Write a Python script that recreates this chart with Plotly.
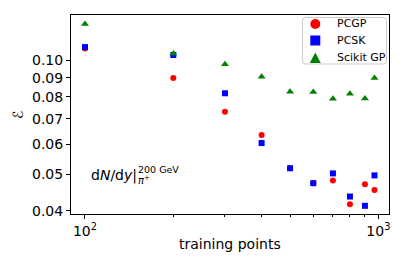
import plotly.graph_objects as go
import numpy as np

# data
train_pts = [100, 200, 300, 400, 500, 600, 700, 800, 900, 970]
pcgp = [0.1075, 0.0898, 0.0731, 0.0634, 0.0518, 0.0473, 0.0481, 0.0416, 0.0470, 0.0454]
pcsk = [0.1084, 0.1033, 0.0818, 0.0604, 0.0518, 0.0473, 0.0502, 0.0436, 0.0412, 0.0496]
scikit = [0.1247, 0.1043, 0.0976, 0.0905, 0.0826, 0.0824, 0.0791, 0.0816, 0.0793, 0.0898]
series_names = ["PCGP", "PCSK", "Scikit GP"]
y_ticks = [0.04, 0.05, 0.06, 0.07, 0.08, 0.09, 0.10]
y_tick_labels = ["0.04", "0.05", "0.06", "0.07", "0.08", "0.09", "0.10"]
x_ticks = [100, 1000]
x_tick_labels = ["10<sup>2</sup>", "10<sup>3</sup>"]
x_minor = [200, 300, 400, 500, 600, 700, 800, 900]

W, H = 407, 271
L, R, T, B = 71, 389, 15, 214

font = "DejaVu Sans"
colors = ["#ff0000", "#0000ff", "#008000"]
symbols = ["circle", "square", "triangle-up"]
sizes = [6, 6, 7]
series = [pcgp, pcsk, scikit]

fig = go.Figure()
for name, ys, c, s, sz in zip(series_names, series, colors, symbols, sizes):
    fig.add_trace(go.Scatter(x=train_pts, y=ys, mode="markers", name=name,
                             marker=dict(color=c, symbol=s, size=sz, line=dict(width=0)),
                             showlegend=False))


def px_x(p):
    return (p - L) / (R - L)


def px_y(p):
    return (B - p) / (B - T)


fig.update_layout(
    width=W, height=H,
    margin=dict(l=L, r=W - R, t=T, b=H - B, pad=0, autoexpand=False),
    paper_bgcolor="white", plot_bgcolor="white",
    font=dict(family=font, size=14, color="black"),
    showlegend=False,
    xaxis=dict(type="log", range=[np.log10(89.6), np.log10(1087)], automargin=False,
               showline=True, linecolor="black", linewidth=1, mirror=True,
               showgrid=False, zeroline=False,
               tickmode="array", tickvals=x_ticks, ticktext=x_tick_labels,
               ticks="outside", ticklen=4, tickwidth=1, tickcolor="black",
               tickfont=dict(size=14),
               minor=dict(tickmode="array", tickvals=x_minor, ticks="outside",
                          ticklen=2, tickwidth=1, tickcolor="black", showgrid=False)),
    yaxis=dict(type="log", range=[np.log10(0.0392), np.log10(0.1318)], automargin=False,
               showline=True, linecolor="black", linewidth=1, mirror=True,
               showgrid=False, zeroline=False,
               tickmode="array", tickvals=y_ticks, ticktext=y_tick_labels,
               ticks="outside", ticklen=4, tickwidth=1, tickcolor="black",
               tickfont=dict(size=14)),
)

# ---- manual legend (box + glyphs + labels) ----
bx0, bx1, by0, by1, rr = 302.5, 386.5, 17.5, 64.0, 3.0


def P(x, y):
    return f"{px_x(x):.5f},{px_y(y):.5f}"


box_path = (f"M {P(bx0 + rr, by0)} L {P(bx1 - rr, by0)} Q {P(bx1, by0)} {P(bx1, by0 + rr)} "
            f"L {P(bx1, by1 - rr)} Q {P(bx1, by1)} {P(bx1 - rr, by1)} "
            f"L {P(bx0 + rr, by1)} Q {P(bx0, by1)} {P(bx0, by1 - rr)} "
            f"L {P(bx0, by0 + rr)} Q {P(bx0, by0)} {P(bx0 + rr, by0)} Z")
fig.add_shape(type="path", path=box_path, xref="paper", yref="paper",
              fillcolor="rgba(255,255,255,0.85)", line=dict(color="#cccccc", width=1))

mx = 315.3
row_y = [24.0, 40.5, 57.5]
# circle
fig.add_shape(type="circle", xref="paper", yref="paper",
              x0=px_x(mx - 5), x1=px_x(mx + 5), y0=px_y(row_y[0] + 5), y1=px_y(row_y[0] - 5),
              fillcolor=colors[0], line=dict(width=0))
# square
fig.add_shape(type="rect", xref="paper", yref="paper",
              x0=px_x(mx - 5), x1=px_x(mx + 5), y0=px_y(row_y[1] + 5), y1=px_y(row_y[1] - 5),
              fillcolor=colors[1], line=dict(width=0))
# triangle
tri = f"M {P(mx - 5.5, row_y[2] + 5.5)} L {P(mx + 5.5, row_y[2] + 5.5)} L {P(mx, row_y[2] - 5)} Z"
fig.add_shape(type="path", path=tri, xref="paper", yref="paper",
              fillcolor=colors[2], line=dict(width=0))
for name, yy in zip(series_names, row_y):
    fig.add_annotation(text=name, xref="paper", yref="paper", x=px_x(335), y=px_y(yy),
                       showarrow=False, xanchor="left", yanchor="middle",
                       font=dict(size=11, family=font))

# axis titles
fig.add_annotation(text="training points", xref="paper", yref="paper",
                   x=px_x(230), y=px_y(244), showarrow=False,
                   font=dict(size=14, family=font), xanchor="center", yanchor="middle")
fig.add_annotation(text="<i>ℰ</i>", xref="paper", yref="paper",
                   x=px_x(18), y=px_y(115), showarrow=False, textangle=-90,
                   font=dict(size=14, family=font), xanchor="center", yanchor="middle")

# in-plot label
fig.add_annotation(text="d<i>N</i>/d<i>y</i>|", xref="paper", yref="paper",
                   x=px_x(89), y=px_y(175), showarrow=False,
                   font=dict(size=14, family=font), xanchor="left", yanchor="middle")
fig.add_annotation(text="200 GeV", xref="paper", yref="paper",
                   x=px_x(136), y=px_y(169), showarrow=False,
                   font=dict(size=9.5, family=font), xanchor="left", yanchor="middle")
fig.add_annotation(text="<i>π</i><sup>+</sup>", xref="paper", yref="paper",
                   x=px_x(136), y=px_y(180), showarrow=False,
                   font=dict(size=10, family=font), xanchor="left", yanchor="middle")

fig.write_html("out.html", config={"displayModeBar": False},
               post_script="document.body.style.margin='0';")
